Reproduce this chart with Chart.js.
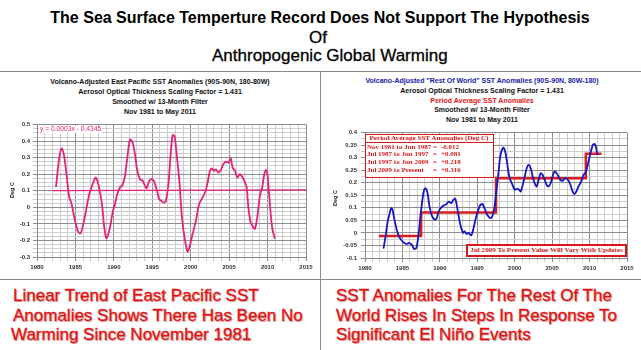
<!DOCTYPE html>
<html>
<head>
<meta charset="utf-8">
<script src="https://cdn.jsdelivr.net/npm/chart.js@4.4.1/dist/chart.umd.min.js"></script>
<style>
  html, body { margin: 0; padding: 0; background: #fff; }
  #page { position: relative; width: 641px; height: 350px; overflow: hidden; font-family: "Liberation Sans", Arial, sans-serif; }
  .t { position: absolute; white-space: nowrap; line-height: 1; z-index: 2; }
  .c { transform: translateX(-50%); }
  .rule { position: absolute; background: #8a8a8a; }
  canvas { position: absolute; z-index: 1; }
  .ct { font-size: 7px; font-weight: bold; color: #111; }
  .red { color: #e01414; font-size: 17px; -webkit-text-stroke: 0.35px #e01414; text-shadow: 1px 1px 1px rgba(110,0,0,0.35); }
  .box { position: absolute; box-sizing: border-box; border: 1.5px solid #d81818; background: #fff; z-index: 2; }
  .bx { font-family: "Liberation Serif", "Times New Roman", serif; font-weight: bold; font-size: 7px; color: #d81818; }
  .ytitle { position: absolute; font-size: 5.5px; font-weight: bold; color: #222; transform: translate(-50%, -50%) rotate(-90deg); white-space: nowrap; z-index: 2; }
</style>
</head>
<body>
<div id="page">
  <div class="t c" style="left:320px;top:10px;font-size:16px;font-weight:bold">The Sea Surface Temperture Record Does Not Support The Hypothesis</div>
  <div class="t c" style="left:318px;top:29px;font-size:17px;-webkit-text-stroke:0.3px #000">Of</div>
  <div class="t" style="left:212px;top:47px;font-size:17px;-webkit-text-stroke:0.3px #000">Anthropogenic Global Warming</div>

  <div class="rule" style="left:0;top:71px;width:641px;height:1px"></div>
  <div class="rule" style="left:320px;top:71px;width:1px;height:279px"></div>
  <div class="rule" style="left:0;top:279px;width:641px;height:1px"></div>

  <canvas id="eastPac" width="320" height="160" style="left:0;top:118px"></canvas>
  <canvas id="restWorld" width="320" height="153" style="left:320px;top:125px"></canvas>

  <!-- left chart titles -->
  <div class="t c ct" style="left:160px;top:77.5px">Volcano-Adjusted East Pacific SST Anomalies (90S-90N, 180-80W)</div>
  <div class="t c ct" style="left:160px;top:87.5px">Aerosol Optical Thickness Scaling Factor = 1.431</div>
  <div class="t c ct" style="left:160px;top:97.5px">Smoothed w/ 13-Month Filter</div>
  <div class="t c ct" style="left:160px;top:107.5px">Nov 1981 to May 2011</div>
  <div class="ytitle" style="left:12px;top:190px">Deg C</div>
  <div class="t" style="left:39px;top:126px;font-size:6.7px;color:#e3237a;background:#fff;padding:0 1px">y = 0.0003x - 0.4345</div>

  <!-- right chart titles -->
  <div class="t c ct" style="left:482px;top:76.5px;color:#1a1aa8">Volcano-Adjusted "Rest Of World" SST Anomalies (90S-90N, 80W-180)</div>
  <div class="t c ct" style="left:482px;top:86.5px">Aerosol Optical Thickness Scaling Factor = 1.431</div>
  <div class="t c ct" style="left:482px;top:96.5px;color:#e01414">Period Average SST Anomalies</div>
  <div class="t c ct" style="left:482px;top:106px">Smoothed w/ 13-Month Filter</div>
  <div class="t c ct" style="left:482px;top:115.5px">Nov 1981 to May 2011</div>
  <div class="ytitle" style="left:335px;top:198px">Deg C</div>

  <!-- period average box -->
  <div class="box" style="left:365px;top:134px;width:129px;height:44px"></div>
  <div class="rule" style="left:365px;top:141.5px;width:129px;height:1px;background:#d81818;z-index:3"></div>
  <div class="t c bx" style="left:429px;top:134.8px;font-size:7.1px">Period Average SST Anomalies (Deg C)</div>
  <div class="t bx" style="left:367px;top:143.5px">Nov 1981 to Jun 1987</div>
  <div class="t bx" style="left:367px;top:151.3px">Jul 1987 to Jun 1997</div>
  <div class="t bx" style="left:367px;top:159.1px">Jul 1997 to Jun 2009</div>
  <div class="t bx" style="left:367px;top:166.9px">Jul 2009 to Present</div>
  <div class="t bx" style="left:433px;top:143.5px">=</div>
  <div class="t bx" style="left:433px;top:151.3px">=</div>
  <div class="t bx" style="left:433px;top:159.1px">=</div>
  <div class="t bx" style="left:433px;top:166.9px">=</div>
  <div class="t bx" style="left:441px;top:143.5px">-0.012</div>
  <div class="t bx" style="left:441px;top:151.3px">+0.081</div>
  <div class="t bx" style="left:441px;top:159.1px">+0.218</div>
  <div class="t bx" style="left:441px;top:166.9px">+0.316</div>

  <div class="box" style="left:466px;top:244px;width:161px;height:13px;border-width:2px"></div>
  <div class="t c bx" style="left:546.5px;top:247.2px;z-index:3;font-size:7.1px">Jul 2009 To Present Value Will Vary With Updates</div>

  <!-- bottom captions -->
  <div class="t red" style="left:13px;top:287px">Linear Trend of East Pacific SST</div>
  <div class="t red" style="left:13px;top:306.5px">Anomalies Shows There Has Been No</div>
  <div class="t red" style="left:11px;top:325.5px">Warming Since November 1981</div>
  <div class="t red" style="left:336px;top:287px">SST Anomalies For The Rest Of The</div>
  <div class="t red" style="left:336px;top:306.5px">World Rises In Steps In Response To</div>
  <div class="t red" style="left:336px;top:325.5px">Significant El Niño Events</div>
</div>

<script>
// East Pacific, 13-month smoothed (deg C)
const eastPacYears = [1982.47,1982.9,1983.2,1983.5,1983.86,1984.16,1984.5,1984.94,1985.38,1985.68,
  1986.03,1986.46,1986.8,1987.24,1987.63,1987.85,1988.2,1988.5,1988.7,1988.98,
  1989.15,1989.5,1989.84,1990.15,1990.45,1990.8,1991.14,1991.45,1991.75,1992.1,
  1992.45,1992.75,1993.05,1993.4,1993.75,1994.05,1994.27,1994.57,1994.9,1995.2,
  1995.56,1995.9,1996.26,1996.6,1996.78,1997.1,1997.39,1997.65,1997.9,1998.17,
  1998.52,1998.82,1999.12,1999.38,1999.6,1999.9,2000.25,2000.68,2001.1,2001.55,
  2001.86,2002.16,2002.5,2002.77,2003.03,2003.29,2003.6,2003.9,2004.24,2004.59,
  2004.93,2005.2,2005.45,2005.76,2006.06,2006.4,2006.76,2007.06,2007.28,2007.5,
  2007.8,2008.14,2008.36,2008.66,2009.0,2009.3,2009.57,2009.8,2010.0,2010.2,
  2010.45,2010.66,2010.96];
const eastPacValues = [0.124,0.30,0.356,0.32,0.19,0.07,0.02,-0.08,-0.15,-0.156,
  -0.10,0.0,0.08,0.14,0.18,0.16,0.09,0.0,-0.10,-0.186,
  -0.18,-0.12,-0.03,0.02,0.08,0.12,0.136,0.19,0.30,0.41,
  0.39,0.32,0.22,0.17,0.16,0.13,0.116,0.156,0.17,0.16,
  0.11,0.05,0.036,0.03,0.04,0.14,0.32,0.436,0.43,0.32,
  0.16,-0.04,-0.16,-0.23,-0.27,-0.23,-0.16,-0.08,0.02,0.06,
  0.09,0.14,0.22,0.236,0.22,0.23,0.21,0.224,0.26,0.276,
  0.27,0.296,0.24,0.22,0.18,0.20,0.18,0.15,0.12,0.0,
  -0.09,-0.12,-0.13,-0.06,0.07,0.12,0.20,0.226,0.19,0.08,
  -0.06,-0.14,-0.19];

// linear trend line end points
const trendYears = [1982.05, 2015];
const trendValues = [0.101, 0.105];

// Rest of world, 13-month smoothed (deg C)
const restYears = [1982.47,1982.78,1983.05,1983.25,1983.5,1983.68,1983.93,1984.24,1984.55,1984.9,
  1985.26,1985.57,1985.88,1986.23,1986.58,1986.85,1987.1,1987.38,1987.64,1987.9,
  1988.13,1988.35,1988.66,1988.97,1989.32,1989.58,1989.85,1990.2,1990.56,1990.87,
  1991.18,1991.53,1991.8,1992.06,1992.33,1992.64,1992.86,1993.12,1993.3,1993.57,
  1993.83,1994.18,1994.45,1994.7,1995.07,1995.38,1995.69,1995.95,1996.22,1996.48,
  1996.75,1997.0,1997.28,1997.54,1997.8,1998.07,1998.29,1998.5,1998.73,1998.96,
  1999.18,1999.4,1999.7,2000.0,2000.28,2000.6,2000.8,2001.08,2001.34,2001.6,
  2001.87,2002.14,2002.4,2002.67,2002.93,2003.2,2003.46,2003.72,2004.0,2004.26,
  2004.5,2004.8,2005.05,2005.32,2005.6,2005.85,2006.1,2006.4,2006.65,2006.9,
  2007.18,2007.44,2007.7,2007.97,2008.24,2008.5,2008.77,2009.03,2009.2,2009.42,
  2009.65,2009.9,2010.2,2010.45,2010.71,2010.9,2011.06];
const restValues = [-0.063,-0.007,0.049,0.072,0.099,0.092,0.053,0.013,-0.014,-0.03,
  -0.04,-0.044,-0.04,-0.047,-0.064,-0.06,-0.02,0.059,0.125,0.172,
  0.178,0.159,0.099,0.066,0.053,0.059,0.086,0.102,0.11,0.115,
  0.125,0.119,0.132,0.136,0.099,0.046,0.019,0.0,0.006,-0.004,
  0.0,-0.01,0.013,0.046,0.086,0.11,0.115,0.099,0.079,0.066,
  0.059,0.066,0.099,0.165,0.232,0.305,0.331,0.34,0.324,0.285,
  0.238,0.212,0.192,0.172,0.176,0.172,0.165,0.192,0.225,0.258,
  0.271,0.258,0.225,0.198,0.185,0.212,0.238,0.232,0.212,0.192,
  0.185,0.198,0.225,0.245,0.238,0.225,0.212,0.208,0.216,0.218,
  0.208,0.192,0.168,0.155,0.165,0.185,0.198,0.218,0.232,0.238,
  0.258,0.291,0.327,0.351,0.354,0.335,0.311];

// period averages
const periodStart = [1981.85, 1987.5, 1997.5, 2009.5];
const periodEnd = [1987.5, 1997.5, 2009.5, 2011.6];
const periodAvg = [-0.012, 0.081, 0.218, 0.316];

const xLabelYears = [1980, 1985, 1990, 1995, 2000, 2005, 2010, 2015];

const pts = (xs, ys) => xs.map((x, i) => ({x: x, y: ys[i]}));
const stepPts = [];
periodAvg.forEach((v, i) => {
  stepPts.push({x: periodStart[i], y: v});
  stepPts.push({x: periodEnd[i], y: v});
});

const near = (v, unit) => Math.abs(v / unit - Math.round(v / unit)) < 1e-6;
const tickFont = { size: 6, weight: 'bold', family: '"Liberation Sans", Arial, sans-serif' };
const MAJOR = '#8c8c8c', MINOR = '#cdcdcd';

function xScale(height) {
  return {
    type: 'linear', min: 1980, max: 2015,
    afterFit: s => { s.height = height; },
    border: { color: '#888' },
    grid: { color: c => near(c.tick.value, 5) ? MAJOR : MINOR, tickLength: 4 },
    ticks: {
      stepSize: 1, autoSkip: false, maxRotation: 0, padding: 3,
      font: tickFont, color: '#333',
      callback: v => xLabelYears.includes(Math.round(v)) && near(v, 5) ? String(Math.round(v)) : ''
    }
  };
}

function yScale(min, max, major, width, pad) {
  return {
    min: min, max: max,
    afterFit: s => { s.width = width; },
    border: { color: '#888' },
    grid: { color: c => near(c.tick.value, major) ? MAJOR : MINOR, tickLength: 4 },
    ticks: {
      stepSize: 0.025, autoSkip: false, padding: pad,
      font: tickFont, color: '#333',
      callback: v => near(v, major) ? String(Math.round(v * 100) / 100) : ''
    }
  };
}

const common = {
  responsive: false, animation: false, devicePixelRatio: 1,
  plugins: { legend: { display: false }, tooltip: { enabled: false } },
  elements: { point: { radius: 0 } }
};

new Chart(document.getElementById('eastPac'), {
  type: 'line',
  data: {
    datasets: [
      { data: pts(eastPacYears, eastPacValues), borderColor: '#e3237a', borderWidth: 1.8, tension: 0.3, fill: false },
      { data: pts(trendYears, trendValues), borderColor: '#e3237a', borderWidth: 1.3, fill: false }
    ]
  },
  options: Object.assign({}, common, {
    layout: { padding: { top: 5, right: 14, left: 0, bottom: 0 } },
    scales: { x: xScale(21), y: yScale(-0.3, 0.5, 0.1, 37, 3) }
  })
});

new Chart(document.getElementById('restWorld'), {
  type: 'line',
  data: {
    datasets: [
      { data: pts(restYears, restValues), borderColor: '#1414c4', borderWidth: 1.8, tension: 0.3, fill: false },
      { data: stepPts, borderColor: '#e01b1b', borderWidth: 2.5, fill: false }
    ]
  },
  options: Object.assign({}, common, {
    layout: { padding: { top: 6, right: 13, left: 0, bottom: 0 } },
    scales: { x: xScale(20), y: yScale(-0.1, 0.4, 0.05, 45, 4) }
  })
});
</script>
</body>
</html>
